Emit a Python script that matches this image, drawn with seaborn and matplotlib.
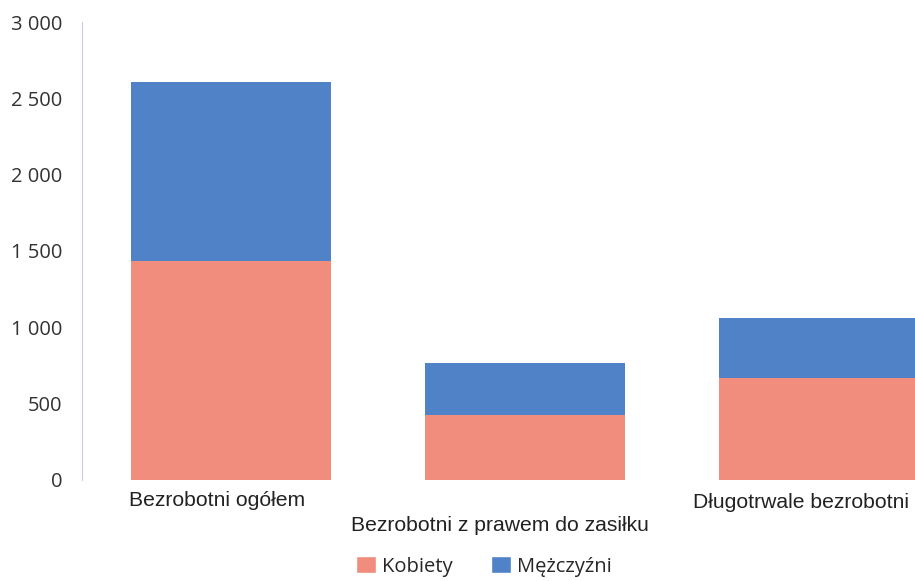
import matplotlib
matplotlib.use("Agg")
import matplotlib.pyplot as plt
import matplotlib.ticker as mticker
from matplotlib.patches import Patch
import pandas as pd
import seaborn as sns

categories = ["Bezrobotni ogółem", "Bezrobotni z prawem do zasiłku", "Długotrwale bezrobotni"]
kobiety = [1435, 425, 668]
mezczyzni = [1172, 341, 393]
y_ticks = [0, 500, 1000, 1500, 2000, 2500, 3000]

pink = "#F08D7C"
blue = "#5082C8"

sns.set_theme(style="white")
plt.rcParams["font.family"] = ["Open Sans", "DejaVu Sans"]
label_font = ["Liberation Sans", "DejaVu Sans"]

df = pd.DataFrame({"kategoria": categories, "Kobiety": kobiety, "Mężczyźni": mezczyzni})
df["razem"] = df["Kobiety"] + df["Mężczyźni"]

fig = plt.figure(figsize=(9.15, 5.81), dpi=100)
ax = fig.add_axes([0.0896, 0.174, 0.9104, 0.788])

sns.barplot(data=df, x="kategoria", y="razem", color=blue, width=0.68,
            saturation=1, linewidth=0, ax=ax)
sns.barplot(data=df, x="kategoria", y="Kobiety", color=pink, width=0.68,
            saturation=1, linewidth=0, ax=ax)

ax.set_xlim(-0.507, 2.327)
ax.set_ylim(0, 3000)
ax.set_yticks(y_ticks)
ax.yaxis.set_major_formatter(mticker.FuncFormatter(lambda v, p: f"{int(v):,}".replace(",", " ")))
ax.tick_params(axis="y", length=0, labelsize=14.5, colors="#333333", pad=14)
ax.set_xlabel("")
ax.set_ylabel("")

# staggered category labels
ax.set_xticks([])
offsets = [(-0.046, -0.046), (-0.085, -0.1), (-0.06, -0.05)]
for i, lab in enumerate(categories):
    dx, dy = offsets[i]
    ax.text(i + dx, dy, lab, transform=ax.get_xaxis_transform(), ha="center",
            va="center", fontsize=15.2, color="#222222", family=label_font)

for s in ["top", "right", "bottom"]:
    ax.spines[s].set_visible(False)
ax.spines["left"].set_color("#c8cde0")
ax.spines["left"].set_linestyle((0, (1, 1)))
ax.spines["left"].set_linewidth(0.8)

handles = [Patch(facecolor=pink, label="Kobiety"), Patch(facecolor=blue, label="Mężczyźni")]
fig.legend(handles=handles, loc="center", bbox_to_anchor=(0.529, 0.025), ncol=2,
           frameon=False, handlelength=1.0, handleheight=0.9,
           handletextpad=0.3, columnspacing=1.9,
           prop={"family": ["Open Sans", "DejaVu Sans"], "size": 14.5})

fig.savefig("out.png", dpi=100)
